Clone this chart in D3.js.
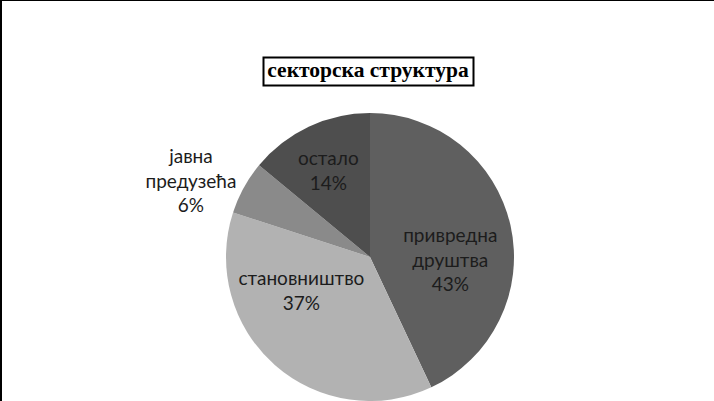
<!DOCTYPE html>
<html><head><meta charset="utf-8">
<script src="https://cdn.jsdelivr.net/npm/d3@7"></script>
<style>html,body{margin:0;padding:0;background:#fff;}svg{display:block;}</style>
</head><body>
<svg id="c" width="714" height="401"></svg>
<script>
const title = "секторска структура";
const categories = ["привредна друштва", "становништво", "јавна предузећа", "остало"];
const values = [43, 37, 6, 14];
const labelLines = [["привредна","друштва"],["становништво"],["јавна","предузећа"],["остало"]];
const colors = ["#5f5f5f", "#b2b2b2", "#8a8a8a", "#4e4e4e"];

const svg = d3.select("#c");
svg.append("line").attr("x1",1).attr("y1",0).attr("x2",1).attr("y2",401).attr("stroke","#000").attr("stroke-width",2);
svg.append("line").attr("x1",0).attr("y1",0.5).attr("x2",714).attr("y2",0.5).attr("stroke","#000").attr("stroke-width",1);

const cx = 370, cy = 257, r = 144;
const pie = d3.pie().sort(null).value(d => d)(values);
const arc = d3.arc().innerRadius(0).outerRadius(r);
const g = svg.append("g").attr("transform",`translate(${cx},${cy})`);
g.selectAll("path").data(pie).join("path").attr("d",arc).attr("fill",(d,i)=>colors[i]);

const labelArc = d3.arc().innerRadius(0).outerRadius(r);
const labelNudge = [[10,19],[-21,-20],[-116,-41],[-11,-21]];
const lh = 24.5;
pie.forEach((d,i)=>{
  const [x0,y0c] = labelArc.centroid(d);
  const x = x0 + labelNudge[i][0], y = y0c + labelNudge[i][1];
  const lines = [...labelLines[i], values[i]+"%"];
  const t = g.append("text").attr("text-anchor","middle")
    .attr("font-family","Lato, 'Open Sans', sans-serif").attr("font-size",19).attr("fill","#1c1c1c");
  const yb = y - (lines.length-1)*lh/2 + 6.5;
  lines.forEach((ln,j)=>{
    t.append("tspan").attr("x",x).attr("y",yb+j*lh).text(ln);
  });
});

svg.append("text").attr("x",368).attr("y",77).attr("text-anchor","middle")
  .attr("font-family","'Liberation Serif','Times New Roman',serif").attr("font-weight","bold")
  .attr("font-size",21.5).attr("fill","#000").text(title);
svg.append("rect").attr("x",263.5).attr("y",57.5).attr("width",210).attr("height",28)
  .attr("fill","none").attr("stroke","#000").attr("stroke-width",2);
</script>
</body></html>
